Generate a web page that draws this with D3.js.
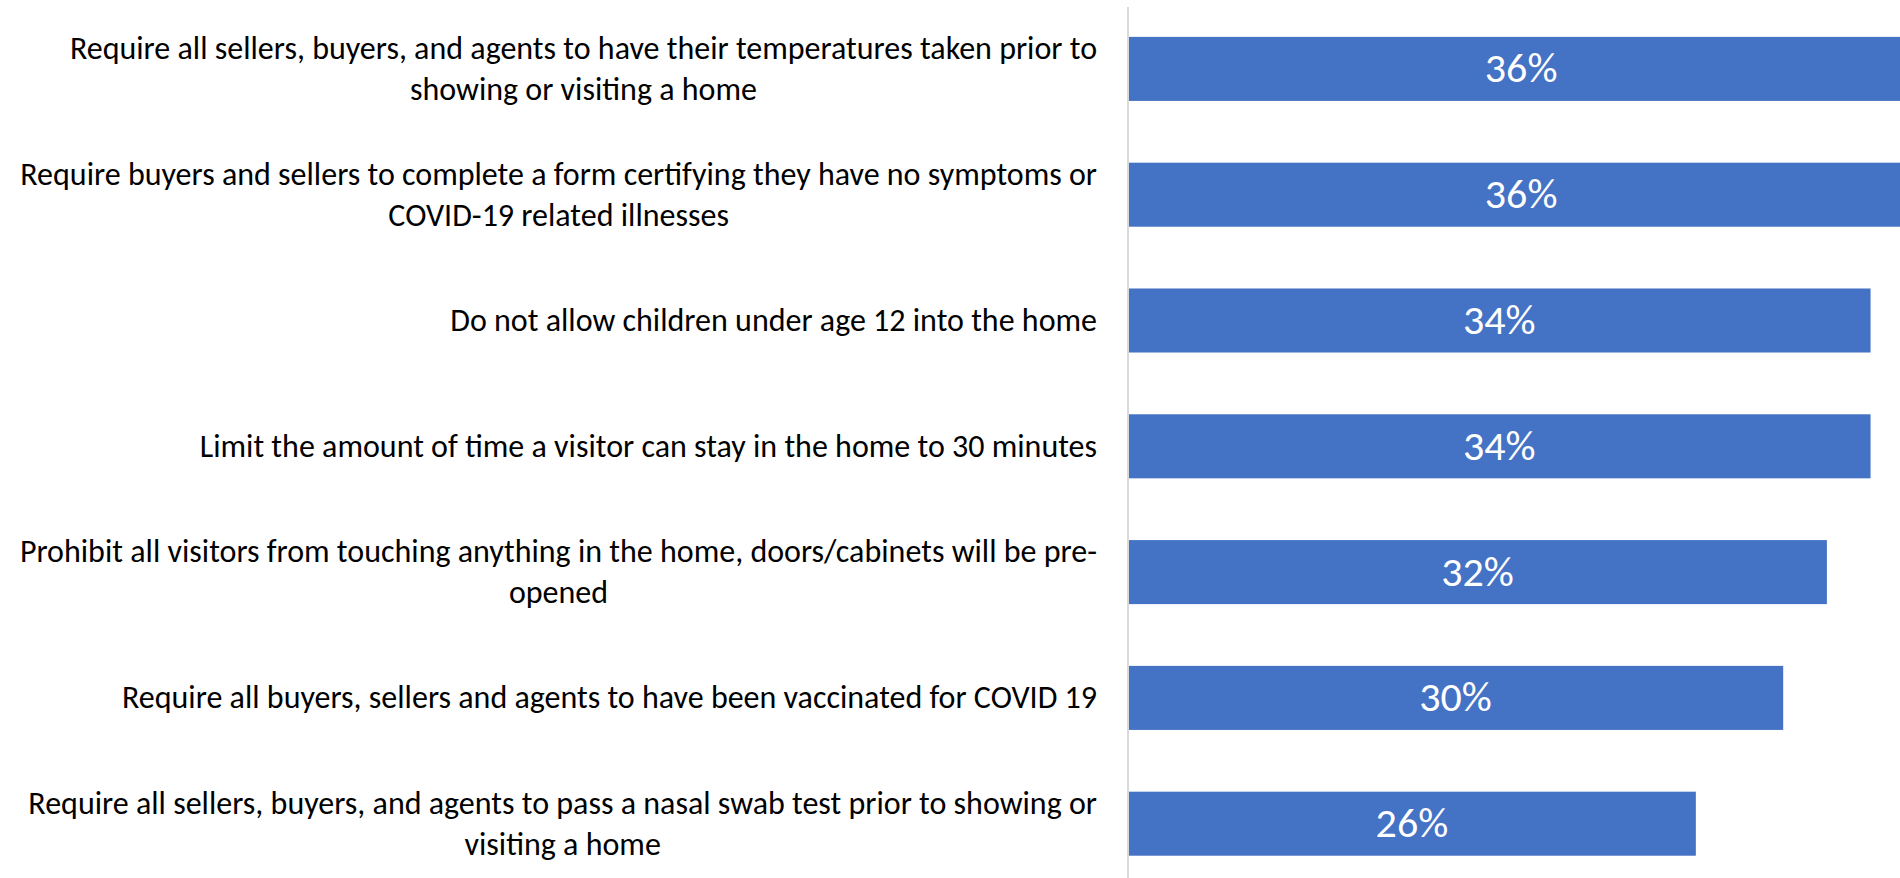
<!DOCTYPE html>
<html>
<head>
<meta charset="utf-8">
<script src="https://cdn.jsdelivr.net/npm/d3@7"></script>
<style>
  body { margin: 0; background: #fff; }
  svg { display: block; }
  .cat_label { font-family: Carlito, Calibri, 'Liberation Sans', sans-serif; font-size: 32px; fill: #000; }
  .val_label { font-family: Carlito, Calibri, 'Liberation Sans', sans-serif; font-size: 42px; fill: #fff; }
</style>
</head>
<body>
<svg id="chart" width="1900" height="878"></svg>
<script>

// categories, top to bottom ("\n" = where the label wraps in the original)
const categories = [
  'Require all sellers, buyers, and agents to have their temperatures taken prior to\nshowing or visiting a home',
  'Require buyers and sellers to complete a form certifying they have no symptoms or\nCOVID-19 related illnesses',
  'Do not allow children under age 12 into the home',
  'Limit the amount of time a visitor can stay in the home to 30 minutes',
  'Prohibit all visitors from touching anything in the home, doors/cabinets will be pre-\nopened',
  'Require all buyers, sellers and agents to have been vaccinated for COVID 19',
  'Require all sellers, buyers, and agents to pass a nasal swab test prior to showing or\nvisiting a home'
];

const values = [0.36, 0.36, 0.34, 0.34, 0.32, 0.30, 0.26];

const xMax = 0.40;

const svg = d3.select('#chart');

const axisX = 1128,
      labelRight = 1097;

const x = d3.scaleLinear()
  .domain([0, xMax])
  .range([axisX, axisX + 873.6]);

const y = d3.scaleBand()
  .domain(d3.range(categories.length))
  .range([6, 886.6])
  .paddingInner(0.491)
  .paddingOuter(0.2455);

// bars
svg.append('g')
  .selectAll('rect')
  .data(values)
  .join('rect')
    .attr('x', x(0))
    .attr('y', (d, i) => y(i))
    .attr('width', d => x(d) - x(0))
    .attr('height', y.bandwidth())
    .attr('fill', '#4472c4');

// value labels, centred in each bar
svg.append('g')
  .selectAll('text')
  .data(values)
  .join('text')
    .attr('class', 'val_label')
    .attr('x', d => (x(0) + x(d)) / 2)
    .attr('y', (d, i) => y(i) + y.bandwidth() / 2)
    .attr('dy', '0.32em')
    .attr('text-anchor', 'middle')
    .text(d => d3.format('.0%')(d));

// vertical axis line
svg.append('line')
  .attr('x1', axisX).attr('x2', axisX)
  .attr('y1', 7).attr('y2', 878)
  .attr('stroke', '#d9d9d9')
  .attr('stroke-width', 2);

// category labels: block right aligned, wrapped lines centred in block
const lineH = 41;
const catG = svg.append('g');

categories.forEach(function(cat, i){
  const lines = cat.split('\n');
  const cy = y(i) + y.bandwidth() / 2;
  const t = catG.append('text')
    .attr('class', 'cat_label')
    .attr('text-anchor', 'middle');

  lines.forEach(function(line, j){
    t.append('tspan')
      .attr('y', cy + (j - (lines.length - 1) / 2) * lineH + 10.5)
      .text(line);
  });

  let maxW = 0;
  t.selectAll('tspan').each(function(){
    maxW = Math.max(maxW, this.getComputedTextLength());
  });
  t.selectAll('tspan').attr('x', labelRight - maxW / 2);
});

</script>
</body>
</html>
